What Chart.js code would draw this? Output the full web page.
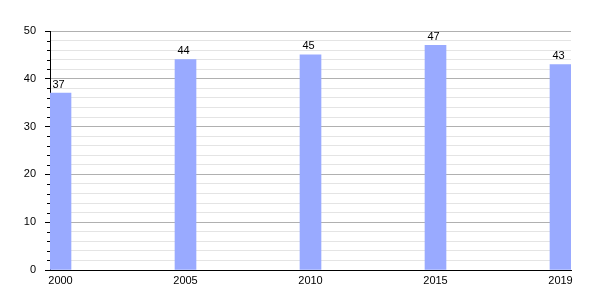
<!DOCTYPE html>
<html lang="en">
<head>
    <meta charset="UTF-8">
    <title>Bar chart</title>
    <script src="https://cdn.jsdelivr.net/npm/chart.js"></script>
    <style>
        body {
            margin: 0;
            padding: 0;
            background: #ffffff;
        }
        #wrap {
            width: 600px;
            height: 300px;
        }
    </style>
</head>
<body>

<div id="wrap">
    <canvas id="grafico"></canvas>
</div>

<script>
    // Datos del gráfico
    const years = ['2000', '2005', '2010', '2015', '2019'];
    const values = [37, 44, 45, 47, 43];
    const yTicks = [0, 10, 20, 30, 40, 50];

    const barColor = '#99aaff';

    // Números encima de cada barra
    const valueLabels = {
        id: 'valueLabels',
        afterDatasetsDraw(chart) {
            const ctx = chart.ctx;
            ctx.save();
            ctx.font = '11px Arial, "Liberation Sans", sans-serif';
            ctx.fillStyle = '#000';
            ctx.textAlign = 'center';
            ctx.textBaseline = 'bottom';
            chart.getDatasetMeta(0).data.forEach((bar, i) => {
                ctx.fillText(values[i], bar.x - 2, bar.y - 3);
            });
            ctx.restore();
        }
    };

    // Marcas menores del eje Y
    const minorTicks = {
        id: 'minorTicks',
        afterDraw(chart) {
            const ctx = chart.ctx;
            const y = chart.scales.y;
            ctx.save();
            ctx.strokeStyle = '#000';
            ctx.lineWidth = 1;
            y.ticks.forEach(t => {
                if (t.value % 10 !== 0) {
                    const py = Math.round(y.getPixelForValue(t.value)) + 0.5;
                    ctx.beginPath();
                    ctx.moveTo(y.right - 3, py);
                    ctx.lineTo(y.right, py);
                    ctx.stroke();
                }
            });
            ctx.restore();
        }
    };

    new Chart(document.getElementById('grafico'), {
        type: 'bar',
        data: {
            datasets: [{
                data: values.map((v, i) => ({ x: i, y: v })),
                backgroundColor: barColor,
                borderWidth: 0,
                barThickness: 21
            }]
        },
        options: {
            responsive: true,
            maintainAspectRatio: false,
            animation: false,
            layout: {
                padding: { top: 31, right: 29, left: 0, bottom: 0 }
            },
            plugins: {
                legend: { display: false },
                tooltip: { enabled: false }
            },
            scales: {
                x: {
                    type: 'linear',
                    offset: false,
                    min: -0.084,
                    max: years.length - 1 + 0.084,
                    afterBuildTicks: scale => {
                        scale.ticks = years.map((y, i) => ({ value: i }));
                    },
                    afterFit: scale => { scale.height = 30; },
                    grid: { display: false, drawTicks: false, offset: false },
                    border: { color: '#000', width: 1 },
                    ticks: {
                        padding: 4,
                        color: '#000',
                        font: { family: 'Arial, "Liberation Sans", sans-serif', size: 11 },
                        maxRotation: 0,
                        callback: v => years[v] ?? ''
                    }
                },
                y: {
                    min: 0,
                    max: 50,
                    afterFit: scale => { scale.width = 50; },
                    grid: {
                        color: ctx => (ctx.tick && ctx.tick.value % 10 === 0) ? '#b0b0b0' : '#e4e4e4',
                        tickColor: ctx => (ctx.tick && ctx.tick.value % 10 === 0) ? '#000' : 'rgba(0,0,0,0)',
                        tickLength: 5
                    },
                    border: { color: '#000', width: 1 },
                    ticks: {
                        stepSize: 2,
                        padding: 9,
                        autoSkip: false,
                        color: '#000',
                        font: { family: 'Arial, "Liberation Sans", sans-serif', size: 11 },
                        callback: v => yTicks.includes(v) ? v : ''
                    }
                }
            }
        },
        plugins: [valueLabels, minorTicks]
    });
</script>

</body>
</html>
